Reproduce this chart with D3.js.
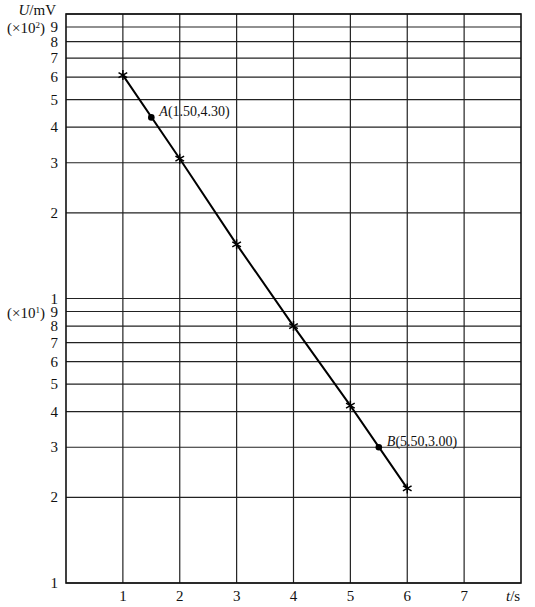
<!DOCTYPE html>
<html>
<head>
<meta charset="utf-8" />
<title>U - t semilog plot</title>
<style>
  body { margin: 0; background: #fff; }
  svg text { font-family: "Liberation Serif", "DejaVu Serif", serif; fill: #111; }
</style>
</head>
<body>
<svg id="chart" width="535" height="607"></svg>
<script src="https://d3js.org/d3.v7.min.js"></script>
<script>
// measured points (t in s, U on the log grid)
var tValues = [1, 2, 3, 4, 5, 6];
var uValues = [61, 31, 15.5, 8.0, 4.2, 2.15];

// the two read-off points
var markNames = ["A", "B"];
var markT = [1.5, 5.5];
var markU = [43.3, 3.0];
var markText = ["(1.50,4.30)", "(5.50,3.00)"];

// axis ticks
var tTicks = [1, 2, 3, 4, 5, 6, 7];
var uGrid = [1, 2, 3, 4, 5, 6, 7, 8, 9, 10, 20, 30, 40, 50, 60, 70, 80, 90, 100];
var uLabels = ["1", "2", "3", "4", "5", "6", "7", "8", "9", "1", "2", "3", "4", "5", "6", "7", "8", "9", ""];

var svg = d3.select("#chart");
var pLeft = 66, pRight = 521, pTop = 14, pBottom = 583;

var x = d3.scaleLinear().domain([0, 8]).range([pLeft, pRight]);
var y = d3.scaleLog().domain([1, 100]).range([pBottom, pTop]);

// grid
svg.append("g").selectAll("line")
  .data(uGrid)
  .enter().append("line")
  .attr("x1", pLeft).attr("x2", pRight)
  .attr("y1", function(d){ return y(d); })
  .attr("y2", function(d){ return y(d); })
  .attr("stroke", "#222").attr("stroke-width", 1.2);

svg.append("g").selectAll("line")
  .data(tTicks)
  .enter().append("line")
  .attr("y1", pTop).attr("y2", pBottom)
  .attr("x1", function(d){ return x(d); })
  .attr("x2", function(d){ return x(d); })
  .attr("stroke", "#222").attr("stroke-width", 1.2);

// frame
svg.append("rect")
  .attr("x", pLeft).attr("y", pTop)
  .attr("width", pRight - pLeft).attr("height", pBottom - pTop)
  .attr("fill", "none").attr("stroke", "#111").attr("stroke-width", 1.6);

// tick labels
svg.append("g").selectAll("text")
  .data(tTicks)
  .enter().append("text")
  .attr("x", function(d){ return x(d); })
  .attr("y", 601)
  .attr("text-anchor", "middle")
  .attr("font-size", 15)
  .text(function(d){ return d; });

svg.append("g").selectAll("text")
  .data(uGrid)
  .enter().append("text")
  .attr("x", 58)
  .attr("y", function(d){ return y(d) + 5; })
  .attr("text-anchor", "end")
  .attr("font-size", 15)
  .text(function(d, i){ return uLabels[i]; });

// multiplier notes
function note(v, p) {
  var t = svg.append("text")
    .attr("x", 7).attr("y", y(v) + 6)
    .attr("font-size", 15);
  t.append("tspan").text("(\u00d710");
  t.append("tspan").attr("font-size", 9).attr("dy", -5).text(p);
  t.append("tspan").attr("dy", 5).text(")");
}
note(9, "1");
note(90, "2");

// axis titles
var ut = svg.append("text").attr("x", 56).attr("y", 15).attr("text-anchor", "end").attr("font-size", 15);
ut.append("tspan").attr("font-style", "italic").text("U");
ut.append("tspan").text("/mV");

var tt = svg.append("text").attr("x", 506).attr("y", 601).attr("font-size", 15);
tt.append("tspan").attr("font-style", "italic").text("t");
tt.append("tspan").text("/s");

// fitted line through the points
var line = d3.line()
  .x(function(d){ return x(d[0]); })
  .y(function(d){ return y(d[1]); });

svg.append("path")
  .datum(d3.zip(tValues, uValues))
  .attr("d", line)
  .attr("fill", "none")
  .attr("stroke", "#000")
  .attr("stroke-width", 2);

// star markers
var star = d3.symbol().type(d3.symbolAsterisk).size(70);
svg.append("g").selectAll("path")
  .data(d3.zip(tValues, uValues))
  .enter().append("path")
  .attr("d", star)
  .attr("transform", function(d){ return "translate(" + x(d[0]) + "," + y(d[1]) + ")"; })
  .attr("fill", "none")
  .attr("stroke", "#000")
  .attr("stroke-width", 1.5);

// A and B
svg.append("g").selectAll("circle")
  .data(markT)
  .enter().append("circle")
  .attr("cx", function(d){ return x(d); })
  .attr("cy", function(d, i){ return y(markU[i]); })
  .attr("r", 3.3)
  .attr("fill", "#000");

markT.forEach(function(d, i) {
  var lab = svg.append("text")
    .attr("x", x(d) + 8)
    .attr("y", y(markU[i]) - 1)
    .attr("font-size", 14);
  lab.append("tspan").attr("font-style", "italic").text(markNames[i]);
  lab.append("tspan").text(markText[i]);
});
</script>
</body>
</html>
